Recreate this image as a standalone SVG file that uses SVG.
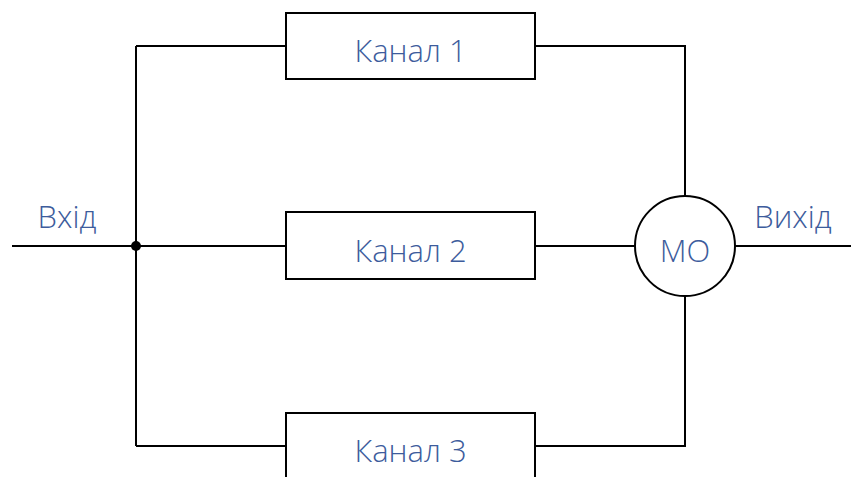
<svg xmlns="http://www.w3.org/2000/svg" width="851" height="477" viewBox="0 0 851 477">
  <style>
    .wire { fill: none; stroke: #000; stroke-width: 2; }
    .box { fill: #fff; stroke: #000; stroke-width: 2; }
    .lbl { font-family: "Open Sans", "Noto Sans", sans-serif; font-weight: 300; font-size: 31px; fill: #3d5c9c; }
  </style>
  <g id="connectors">
    <path class="wire" d="M12 246 H286"/>
    <path class="wire" d="M136 46 V446"/>
    <path class="wire" d="M136 46 H286"/>
    <path class="wire" d="M136 446 H286"/>
    <path class="wire" d="M535 46 H685 V196"/>
    <path class="wire" d="M535 246 H635"/>
    <path class="wire" d="M535 446 H685 V296"/>
    <path class="wire" d="M735 246 H851"/>
    <circle cx="136" cy="246" r="5" fill="#000"/>
  </g>
  <g id="input">
    <text class="lbl" x="67" y="228" text-anchor="middle">Вхід</text>
  </g>
  <g id="output">
    <text class="lbl" x="793" y="228" text-anchor="middle">Вихід</text>
  </g>
  <g id="channel1">
    <rect class="box" x="286" y="13" width="249" height="66"/>
    <text class="lbl" x="410.5" y="62" text-anchor="middle">Канал 1</text>
  </g>
  <g id="channel2">
    <rect class="box" x="286" y="212" width="249" height="67"/>
    <text class="lbl" x="410.5" y="262" text-anchor="middle">Канал 2</text>
  </g>
  <g id="channel3">
    <rect class="box" x="286" y="413" width="249" height="70"/>
    <text class="lbl" x="410.5" y="462" text-anchor="middle">Канал 3</text>
  </g>
  <g id="mo">
    <circle class="wire" cx="685" cy="246" r="50" fill="#fff"/>
    <text class="lbl" x="685" y="262" text-anchor="middle">МО</text>
  </g>
</svg>
